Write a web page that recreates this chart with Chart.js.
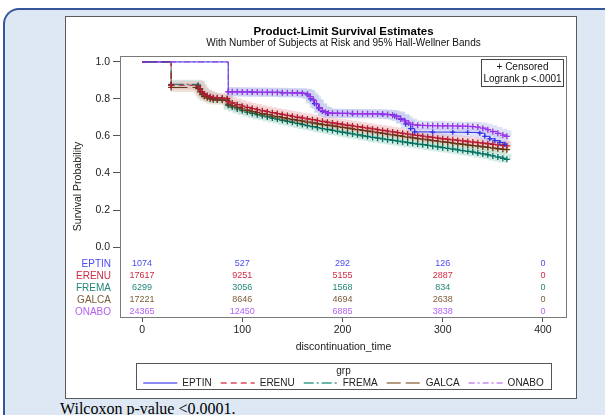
<!DOCTYPE html>
<html>
<head>
<meta charset="utf-8">
<script src="https://cdn.jsdelivr.net/npm/chart.js@4.4.1/dist/chart.umd.min.js"></script>
<style>
  html, body { margin: 0; padding: 0; background: #ffffff; overflow: hidden; }
  body { width: 605px; height: 415px; position: relative; font-family: "Liberation Sans", Arial, sans-serif; }
  #panel {
    position: absolute; left: 3px; top: 8px; width: 602px; height: 430px;
    background: #dee8f4; border-left: 2px solid #34569a; border-top: 2px solid #34569a;
    border-top-left-radius: 16px; box-sizing: border-box;
  }
  #box {
    position: absolute; left: 65px; top: 16px; width: 510px; height: 381px;
    background: #ffffff; border: 1px solid #5a5a5a;
  }
  #box canvas { display: block; }
  #note {
    position: absolute; left: 60px; top: 401px;
    font-family: "Liberation Serif", "Times New Roman", serif; font-size: 16px; line-height: 16px; color: #000;
  }
</style>
</head>
<body>
<div id="panel"></div>
<div id="box"><canvas id="km" width="510" height="381"></canvas></div>
<div id="note">Wilcoxon p-value &lt;0.0001.</div>
<script>
// 群の名前
var GROUPS = ["EPTIN", "ERENU", "FREMA", "GALCA", "ONABO"];

// ERENU / FREMA / GALCA 共通の時間
var KM_TIMES = [0, 29, 56, 58, 60, 62, 65, 68, 71, 75, 80, 85, 86,
  90, 95, 100, 105, 110, 115, 120, 125, 130, 135,
  140, 145, 150, 155, 160, 165, 170, 175, 180, 185,
  190, 195, 200, 205, 210, 215, 220, 225, 230, 235,
  240, 245, 250, 255, 260, 265, 270, 275, 280, 285,
  290, 295, 300, 305, 310, 315, 320, 325, 330, 335,
  340, 345, 350, 355, 360, 364];

var ERENU_SURV = [1.000, 0.874, 0.868, 0.852, 0.838, 0.827, 0.818, 0.812, 0.808, 0.806, 0.805, 0.803, 0.786,
  0.778, 0.769, 0.761, 0.754, 0.748, 0.742, 0.736, 0.731, 0.726, 0.721,
  0.716, 0.711, 0.706, 0.701, 0.697, 0.692, 0.688, 0.683, 0.679, 0.674,
  0.670, 0.666, 0.662, 0.658, 0.654, 0.650, 0.646, 0.642, 0.638, 0.634,
  0.630, 0.626, 0.622, 0.618, 0.614, 0.610, 0.606, 0.603, 0.599, 0.595,
  0.592, 0.588, 0.585, 0.582, 0.579, 0.576, 0.573, 0.570, 0.567, 0.564,
  0.561, 0.558, 0.555, 0.552, 0.549, 0.547];

var FREMA_SURV = [1.000, 0.879, 0.874, 0.855, 0.838, 0.826, 0.816, 0.809, 0.804, 0.802, 0.801, 0.800, 0.766,
  0.756, 0.746, 0.737, 0.729, 0.722, 0.715, 0.709, 0.703, 0.697, 0.691,
  0.685, 0.679, 0.674, 0.668, 0.662, 0.656, 0.651, 0.645, 0.640, 0.635,
  0.630, 0.625, 0.620, 0.615, 0.611, 0.606, 0.601, 0.597, 0.592, 0.588,
  0.584, 0.580, 0.576, 0.572, 0.568, 0.564, 0.560, 0.556, 0.553, 0.549,
  0.545, 0.541, 0.537, 0.533, 0.529, 0.525, 0.521, 0.517, 0.513, 0.508,
  0.503, 0.498, 0.492, 0.486, 0.479, 0.474];

var GALCA_SURV = [1.000, 0.862, 0.856, 0.838, 0.824, 0.814, 0.806, 0.800, 0.796, 0.794, 0.793, 0.792, 0.772,
  0.763, 0.754, 0.746, 0.739, 0.732, 0.726, 0.720, 0.715, 0.709, 0.704,
  0.699, 0.694, 0.689, 0.684, 0.680, 0.675, 0.671, 0.666, 0.662, 0.658,
  0.654, 0.650, 0.646, 0.642, 0.638, 0.634, 0.630, 0.626, 0.622, 0.618,
  0.614, 0.610, 0.606, 0.602, 0.598, 0.594, 0.590, 0.586, 0.583, 0.579,
  0.575, 0.572, 0.568, 0.565, 0.561, 0.558, 0.555, 0.551, 0.548, 0.545,
  0.541, 0.538, 0.534, 0.531, 0.528, 0.526];

var ONABO_TIMES = [0, 86, 90, 95, 100, 105, 110, 115, 120, 125, 130, 135,
  140, 145, 150, 155, 160, 165, 168, 171, 174, 177, 180, 183, 186,
  190, 195, 200, 205, 210, 215, 220, 225, 230, 235, 240, 245, 250,
  254, 258, 262, 266, 270, 275, 280, 285, 290, 295, 300, 305, 310,
  315, 320, 325, 330, 335, 340, 345, 350, 355, 360, 364];

var ONABO_SURV = [1.000, 0.840, 0.839, 0.839, 0.838, 0.838, 0.837, 0.837, 0.836, 0.836, 0.835, 0.835,
  0.834, 0.834, 0.833, 0.832, 0.831, 0.826, 0.812, 0.794, 0.772, 0.752, 0.737, 0.728, 0.724,
  0.723, 0.723, 0.722, 0.722, 0.721, 0.721, 0.720, 0.720, 0.719, 0.719, 0.718, 0.716, 0.712,
  0.704, 0.694, 0.682, 0.670, 0.661, 0.658, 0.657, 0.656, 0.656, 0.655, 0.655, 0.654, 0.654,
  0.653, 0.653, 0.652, 0.651, 0.648, 0.642, 0.634, 0.624, 0.614, 0.605, 0.598];

var EPTIN_TIMES = [0, 86, 110, 140, 160, 165, 168, 172, 176, 180, 185, 210, 240,
  252, 258, 263, 268, 272, 290, 310, 325, 337, 342, 347, 352, 357, 362];
var EPTIN_SURV = [1.000, 0.838, 0.836, 0.833, 0.830, 0.822, 0.800, 0.775, 0.750, 0.732, 0.722, 0.720, 0.716,
  0.708, 0.690, 0.665, 0.640, 0.622, 0.621, 0.620, 0.619, 0.615, 0.598, 0.585, 0.575, 0.565, 0.555];

// リスク集合の人数
var RISK_TIMES = [0, 100, 200, 300, 400];
var EPTIN_RISK = [1074, 527, 292, 126, 0];
var ERENU_RISK = [17617, 9251, 5155, 2887, 0];
var FREMA_RISK = [6299, 3056, 1568, 834, 0];
var GALCA_RISK = [17221, 8646, 4694, 2638, 0];
var ONABO_RISK = [24365, 12450, 6885, 3838, 0];

var X_TICKS = [0, 100, 200, 300, 400];
var Y_TICKS = [0, 0.2, 0.4, 0.6, 0.8, 1.0];

var TITLE = "Product-Limit Survival Estimates";
var SUBTITLE = "With Number of Subjects at Risk and 95% Hall-Wellner Bands";

var SERIES = {
  EPTIN: { t: EPTIN_TIMES, s: EPTIN_SURV, risk: EPTIN_RISK },
  ERENU: { t: KM_TIMES, s: ERENU_SURV, risk: ERENU_RISK },
  FREMA: { t: KM_TIMES, s: FREMA_SURV, risk: FREMA_RISK },
  GALCA: { t: KM_TIMES, s: GALCA_SURV, risk: GALCA_RISK },
  ONABO: { t: ONABO_TIMES, s: ONABO_SURV, risk: ONABO_RISK }
};

var STYLE = {
  EPTIN: { line: "#3333e6", text: "#4b4bf5", legend: "#6464f0", band: "rgba(185,190,240,0.45)", dash: [], order: 2, r: 2.5 },
  ERENU: { line: "#b41a30", text: "#d02a44", legend: "#e04a5c", band: "rgba(240,185,190,0.55)", dash: [6, 4], order: 3, r: 3 },
  FREMA: { line: "#00705e", text: "#23877a", legend: "#3aa08e", band: "rgba(175,220,210,0.55)", dash: [10, 3, 2, 3], order: 5, r: 3 },
  GALCA: { line: "#5a3812", text: "#7b5d3b", legend: "#9c7a58", band: "rgba(220,205,180,0.55)", dash: [14, 5], order: 4, r: 3 },
  ONABO: { line: "#9a32e6", text: "#b462f4", legend: "#c488f4", band: "rgba(200,206,238,0.6)", dash: [6, 3, 2, 3], order: 1, r: 3 }
};

var FONT = "'Liberation Sans', Arial, sans-serif";

function points(ts, vs) {
  return ts.map(function (t, i) { return { x: t, y: vs[i] }; });
}

var datasets = [];
GROUPS.forEach(function (g) {
  var st = STYLE[g];
  // 信頼帯 (太い薄い線で表現、S=1 の区間は幅なし)
  datasets.push({
    label: g + " band",
    data: points(SERIES[g].t, SERIES[g].s).slice(1),
    stepped: true,
    borderColor: st.band,
    borderWidth: 9,
    pointRadius: 0,
    fill: false,
    order: 10
  });
  datasets.push({
    label: g,
    data: points(SERIES[g].t, SERIES[g].s),
    stepped: true,
    borderColor: st.line,
    borderWidth: 1,
    borderDash: st.dash,
    pointStyle: "cross",
    pointRadius: function (ctx) { return ctx.dataIndex === 0 ? 0 : st.r; },
    pointBorderWidth: 1.3,
    pointBorderColor: st.line,
    pointBackgroundColor: st.line,
    fill: false,
    order: st.order
  });
});

// タイトル、プロット枠、打ち切りの凡例、リスク表、群の凡例
var decorPlugin = {
  id: "decor",
  afterDraw: function (chart) {
    var ctx = chart.ctx;
    var a = chart.chartArea;
    var xs = chart.scales.x;
    var cx = (a.left + a.right) / 2;
    ctx.save();
    ctx.textBaseline = "middle";

    // タイトル (プロット領域の中央揃え)
    ctx.textAlign = "center";
    ctx.fillStyle = "#000";
    ctx.font = "bold 11.5px " + FONT;
    ctx.fillText(TITLE, cx, 15);
    ctx.fillStyle = "#111";
    ctx.font = "10px " + FONT;
    ctx.fillText(SUBTITLE, cx, 26.5);

    // プロット枠
    ctx.strokeStyle = "#7a7a7a";
    ctx.lineWidth = 1;
    ctx.strokeRect(a.left + 0.5, a.top + 0.5, a.right - a.left - 1, a.bottom - a.top);

    // + Censored ボックス
    ctx.strokeStyle = "#444";
    ctx.strokeRect(415.5, 42.5, 82, 27);
    ctx.fillStyle = "#111";
    ctx.font = "10px " + FONT;
    ctx.fillText("+ Censored", 456.5, 50);
    ctx.fillText("Logrank p <.0001", 456.5, 62);

    // リスク表
    GROUPS.forEach(function (g, r) {
      var y = a.bottom - 5 - (GROUPS.length - 1 - r) * 12;
      ctx.fillStyle = STYLE[g].text;
      ctx.font = "10px " + FONT;
      ctx.textAlign = "right";
      ctx.fillText(g, 45, y);
      ctx.font = "9px " + FONT;
      ctx.textAlign = "center";
      RISK_TIMES.forEach(function (t, i) {
        ctx.fillText(String(SERIES[g].risk[i]), xs.getPixelForValue(t), y);
      });
    });

    // 群の凡例
    var bx = 70, by = 346, bw = 415, bh = 26;
    ctx.strokeStyle = "#555";
    ctx.lineWidth = 1;
    ctx.setLineDash([]);
    ctx.strokeRect(bx + 0.5, by + 0.5, bw, bh);
    ctx.fillStyle = "#222";
    ctx.font = "10px " + FONT;
    ctx.textAlign = "center";
    ctx.fillText("grp", bx + bw / 2, by + 8);
    var lineLen = 34, gap = 5, sep = 9;
    var total = 0;
    GROUPS.forEach(function (g, i) {
      total += lineLen + gap + ctx.measureText(g).width + (i < GROUPS.length - 1 ? sep : 0);
    });
    var x = bx + bw / 2 - total / 2;
    var ly = by + 20;
    GROUPS.forEach(function (g) {
      ctx.strokeStyle = STYLE[g].legend;
      ctx.lineWidth = 1.5;
      ctx.setLineDash(STYLE[g].dash);
      ctx.beginPath();
      ctx.moveTo(x, ly);
      ctx.lineTo(x + lineLen, ly);
      ctx.stroke();
      ctx.setLineDash([]);
      x += lineLen + gap;
      ctx.fillStyle = "#222";
      ctx.textAlign = "left";
      ctx.fillText(g, x, ly);
      x += ctx.measureText(g).width + sep;
    });
    ctx.restore();
  }
};

var config = {
  type: "line",
  data: { datasets: datasets },
  options: {
    responsive: false,
    animation: false,
    devicePixelRatio: 1,
    layout: { padding: { left: 0, right: 9, top: 39, bottom: 43 } },
    plugins: {
      legend: { display: false },
      tooltip: { enabled: false },
      title: { display: false },
      subtitle: { display: false }
    },
    scales: {
      x: {
        type: "linear",
        min: -22,
        max: 424,
        afterBuildTicks: function (s) { s.ticks = X_TICKS.map(function (v) { return { value: v }; }); },
        afterFit: function (s) { s.height = 38; },
        grid: { drawOnChartArea: false, drawTicks: true, tickLength: 5, color: "#555" },
        border: { display: false },
        ticks: { color: "#222", padding: 2, maxRotation: 0, font: { family: FONT, size: 10.5 } },
        title: {
          display: true,
          text: "discontinuation_time",
          color: "#222",
          font: { family: FONT, size: 10.5, lineHeight: 1 },
          padding: { top: 0, bottom: 2.5 }
        }
      },
      y: {
        type: "linear",
        min: -0.378,
        max: 1.032,
        afterBuildTicks: function (s) { s.ticks = Y_TICKS.map(function (v) { return { value: v }; }); },
        afterFit: function (s) { s.width = 54; },
        grid: { drawOnChartArea: false, drawTicks: true, tickLength: 7, color: "#555" },
        border: { display: false },
        ticks: {
          color: "#222",
          padding: 3,
          font: { family: FONT, size: 10.5 },
          callback: function (v) { return Number(v).toFixed(1); }
        },
        title: {
          display: true,
          text: "Survival Probability",
          color: "#222",
          font: { family: FONT, size: 10.5, lineHeight: 1 },
          padding: { top: 6.5, bottom: 0 }
        }
      }
    }
  },
  plugins: [decorPlugin]
};

var ctx = document.getElementById("km").getContext("2d");
window.kmChart = new Chart(ctx, config);
</script>
</body>
</html>
